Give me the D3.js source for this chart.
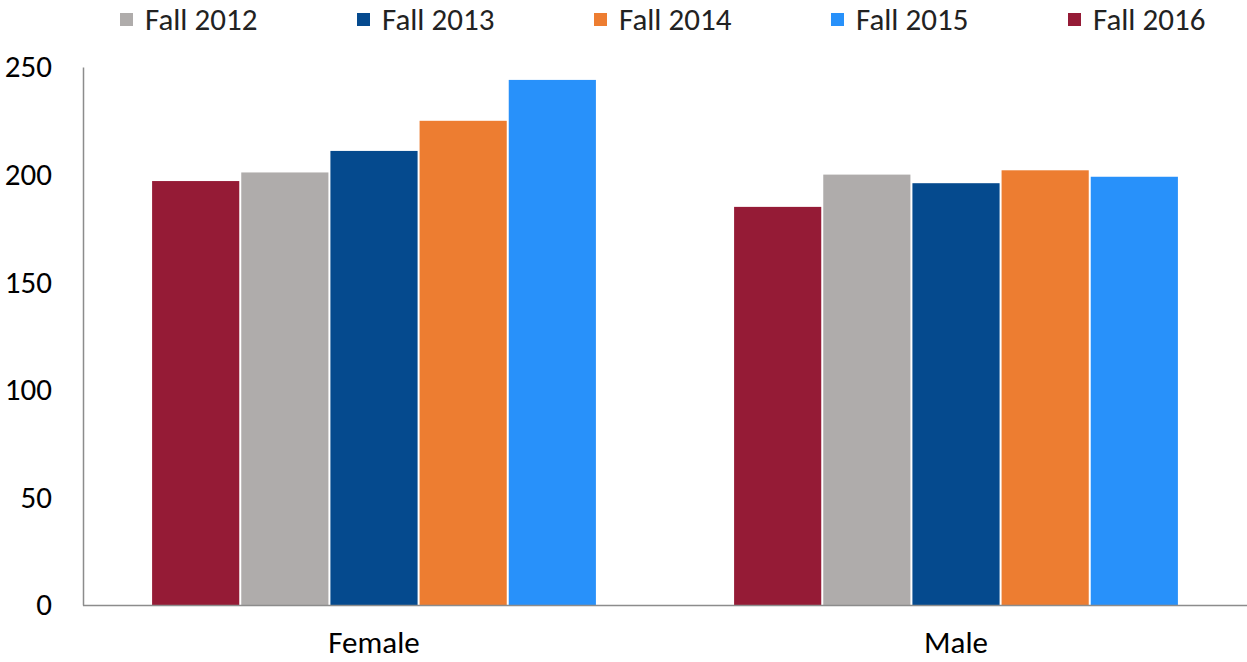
<!DOCTYPE html>
<html>
<head>
<meta charset="utf-8">
<script src="https://cdn.jsdelivr.net/npm/d3@7"></script>
<style>
  html, body { margin: 0; padding: 0; background: #fff; }
  svg { display: block; font-family: Carlito, "Liberation Sans", Arial, sans-serif; }
</style>
</head>
<body>
<svg id="chart" width="1247" height="662"></svg>
<script>
// Enrollment by gender, five fall terms
const genders = ["Female", "Male"];
const terms = ["Fall 2012", "Fall 2013", "Fall 2014", "Fall 2015", "Fall 2016"];
const barOrder = ["Fall 2016", "Fall 2012", "Fall 2013", "Fall 2014", "Fall 2015"];
const fall2012 = [201, 200];
const fall2013 = [211, 196];
const fall2014 = [225, 202];
const fall2015 = [244, 199];
const fall2016 = [197, 185];
const yTicks = [0, 50, 100, 150, 200, 250];
const colors = ["#afacab", "#054a8e", "#ed7d31", "#2891fa", "#951b36"];

const seriesValues = {
  "Fall 2012": fall2012,
  "Fall 2013": fall2013,
  "Fall 2014": fall2014,
  "Fall 2015": fall2015,
  "Fall 2016": fall2016
};

const fontFamily = 'Carlito, "Liberation Sans", Arial, sans-serif';
const fontSize = 31;

const svg = d3.select("#chart");
const plotLeft = 83, plotRight = 1247, plotTop = 67, plotBottom = 605;

const x0 = d3.scaleBand().domain(genders).range([plotLeft, plotRight])
  .paddingInner(0.234).paddingOuter(0.117);
const x1 = d3.scaleBand().domain(barOrder).range([0, x0.bandwidth()]);
const y = d3.scaleLinear().domain([0, 250]).range([plotBottom, plotTop]);
const color = d3.scaleOrdinal().domain(terms).range(colors);

// Bars
const groups = svg.append("g").selectAll("g")
  .data(genders)
  .join("g")
  .attr("transform", d => `translate(${x0(d)},0)`);

groups.selectAll("rect")
  .data((g, gi) => barOrder.map(t => ({ term: t, value: seriesValues[t][gi] })))
  .join("rect")
  .attr("x", d => x1(d.term) + 1)
  .attr("width", x1.bandwidth() - 2)
  .attr("y", d => y(d.value))
  .attr("height", d => y(0) - y(d.value))
  .attr("fill", d => color(d.term));

// Y axis labels
const yAxis = d3.axisLeft(y).tickValues(yTicks).tickSize(0).tickPadding(31);
const yG = svg.append("g").attr("transform", `translate(${plotLeft},0)`).call(yAxis);
yG.select(".domain").attr("stroke", "#8c8c8c").attr("stroke-width", 1.5);
yG.selectAll("text").attr("font-size", fontSize).attr("fill", "#000")
  .attr("font-family", fontFamily);

// X axis
const xAxis = d3.axisBottom(x0).tickSize(0).tickPadding(26);
const xG = svg.append("g").attr("transform", `translate(0,${plotBottom})`).call(xAxis);
xG.select(".domain").remove();
xG.append("line").attr("x1", plotLeft).attr("x2", plotRight).attr("y1", 0.5).attr("y2", 0.5)
  .attr("stroke", "#8c8c8c").attr("stroke-width", 1.5);
xG.selectAll("text").attr("font-size", fontSize).attr("fill", "#000")
  .attr("font-family", fontFamily);

// Legend
const legendX = d3.scalePoint().domain(terms).range([120, 1068]);
const legend = svg.append("g").selectAll("g")
  .data(terms)
  .join("g")
  .attr("transform", d => `translate(${legendX(d)},0)`);
legend.append("rect").attr("x", 0).attr("y", 13).attr("width", 13).attr("height", 13)
  .attr("fill", d => color(d));
legend.append("text").attr("x", 25).attr("y", 30)
  .attr("font-size", fontSize).attr("fill", "#222")
  .attr("font-family", fontFamily)
  .text(d => d);
</script>
</body>
</html>
